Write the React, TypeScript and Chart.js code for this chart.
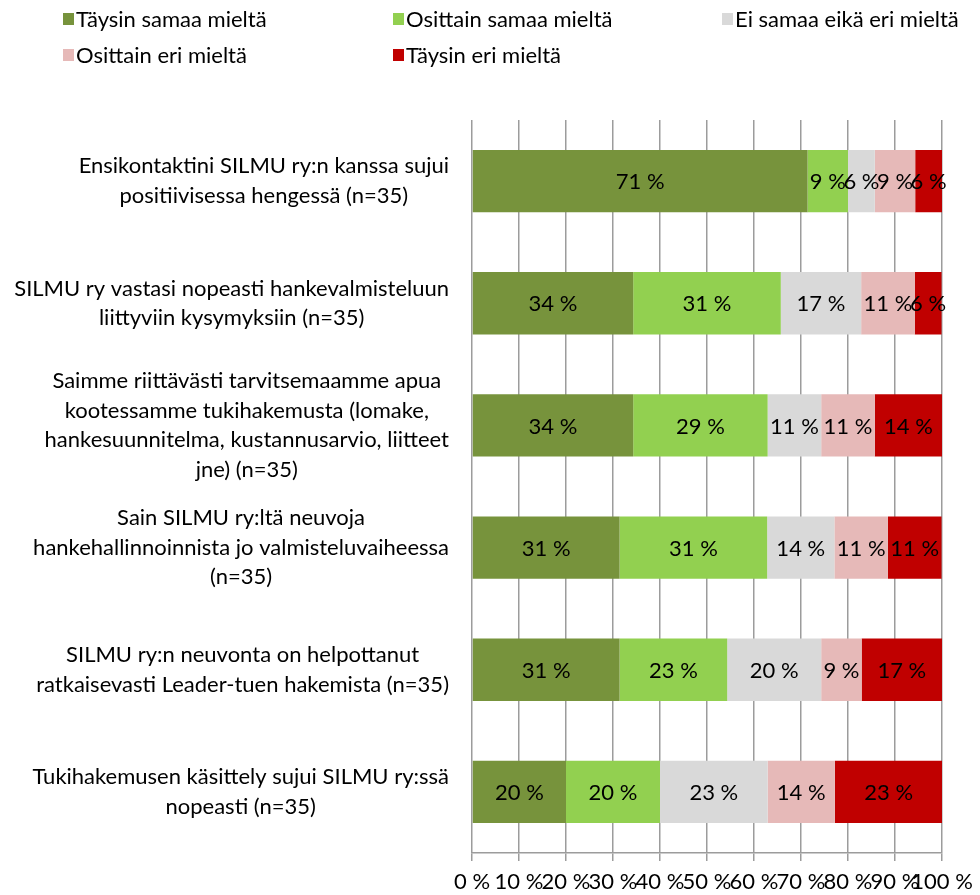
import React, { useEffect, useRef } from "react";
import { Chart, registerables } from "chart.js";

Chart.register(...registerables);

const categories: string[][] = [
  ["Ensikontaktini SILMU ry:n kanssa sujui", "positiivisessa hengessä (n=35)"],
  ["SILMU ry vastasi nopeasti hankevalmisteluun", "liittyviin kysymyksiin (n=35)"],
  ["Saimme riittävästi tarvitsemaamme apua", "kootessamme tukihakemusta (lomake,", "hankesuunnitelma, kustannusarvio, liitteet", "jne) (n=35)"],
  ["Sain SILMU ry:ltä neuvoja", "hankehallinnoinnista jo valmisteluvaiheessa", "(n=35)"],
  ["SILMU ry:n neuvonta on helpottanut", "ratkaisevasti Leader-tuen hakemista (n=35)"],
  ["Tukihakemusen käsittely sujui SILMU ry:ssä", "nopeasti (n=35)"],
];

const seriesNames = [
  "Täysin samaa mieltä",
  "Osittain samaa mieltä",
  "Ei samaa eikä eri mieltä",
  "Osittain eri mieltä",
  "Täysin eri mieltä",
];

const taysinSamaa = [71.4, 34.3, 34.3, 31.4, 31.4, 20.0];
const osittainSamaa = [8.6, 31.4, 28.6, 31.4, 22.9, 20.0];
const eiSamaaEikaEri = [5.7, 17.1, 11.4, 14.3, 20.0, 22.9];
const osittainEri = [8.6, 11.4, 11.4, 11.4, 8.6, 14.3];
const taysinEri = [5.7, 5.7, 14.3, 11.4, 17.1, 22.9];

const xTicks = [0, 10, 20, 30, 40, 50, 60, 70, 80, 90, 100];

const colors = ["#77933C", "#92D050", "#D9D9D9", "#E6B9B8", "#C00000"];

const FONT = "Lato, 'Open Sans', sans-serif";
const FS = 22;

export default function App() {
  const ref = useRef<HTMLCanvasElement | null>(null);

  useEffect(() => {
    if (!ref.current) return;
    const seriesValues = [taysinSamaa, osittainSamaa, eiSamaaEikaEri, osittainEri, taysinEri];

    const overlay = {
      id: "overlay",
      afterDatasetsDraw(chart: any) {
        const ctx = chart.ctx;
        ctx.save();
        ctx.font = `${FS}px ${FONT}`;
        ctx.fillStyle = "#000";
        ctx.textAlign = "center";
        ctx.textBaseline = "middle";
        chart.data.datasets.forEach((ds: any, i: number) => {
          const meta = chart.getDatasetMeta(i);
          meta.data.forEach((bar: any, j: number) => {
            const v = ds.data[j];
            const cx = (bar.x + bar.base) / 2;
            ctx.fillText(`${Math.round(v)} %`, cx, bar.y + 1);
          });
        });
        ctx.restore();
      },
      afterDraw(chart: any) {
        const ctx = chart.ctx;
        ctx.save();
        ctx.font = `${FS}px ${FONT}`;
        ctx.fillStyle = "#000";
        ctx.textBaseline = "middle";
        const yScale = chart.scales.y;
        const rightEdge = 449;
        const lh = 29.5;
        categories.forEach((lines, i) => {
          const cy = yScale.getPixelForValue(i);
          const maxW = Math.max(...lines.map((l) => ctx.measureText(l).width));
          const cx = rightEdge - maxW / 2;
          ctx.textAlign = "center";
          const startY = cy - ((lines.length - 1) * lh) / 2;
          lines.forEach((l, k) => ctx.fillText(l, cx, startY + k * lh));
        });
        const cols = [63, 393, 722];
        const rows = [19, 55];
        seriesNames.forEach((name, i) => {
          const col = i % 3;
          const row = Math.floor(i / 3);
          const x = cols[col];
          const y = rows[row];
          ctx.fillStyle = colors[i];
          ctx.fillRect(x, y - 6, 11, 12);
          ctx.fillStyle = "#000";
          ctx.textAlign = "left";
          ctx.fillText(name, x + 13, y + 1);
        });
        ctx.restore();
      },
    };

    const chart = new Chart(ref.current, {
      type: "bar",
      data: {
        labels: categories.map((c) => c.join(" ")),
        datasets: seriesNames.map((name, i) => ({
          label: name,
          data: seriesValues[i],
          backgroundColor: colors[i],
          borderWidth: 0,
          categoryPercentage: 1,
          barPercentage: 0.51,
        })),
      },
      options: {
        indexAxis: "y",
        animation: false,
        responsive: true,
        maintainAspectRatio: false,
        layout: { padding: { left: 472, right: 38, top: 120, bottom: -8 } },
        plugins: {
          legend: { display: false },
          tooltip: { enabled: false },
        },
        scales: {
          x: {
            stacked: true,
            min: 0,
            max: 100,
            afterBuildTicks(scale: any) {
              scale.ticks = xTicks.map((v) => ({ value: v }));
            },
            afterFit(scale: any) {
              scale.paddingLeft = 0;
              scale.paddingRight = 0;
            },
            grid: {
              color: "#9c9c9c",
              lineWidth: 1.5,
              drawTicks: true,
              tickLength: 8,
            },
            border: { display: true, color: "#9c9c9c", width: 1.5 },
            ticks: {
              autoSkip: false,
              maxRotation: 0,
              padding: 10,
              color: "#000",
              font: { family: FONT, size: FS, lineHeight: 1 },
              callback: (v: any) => `${v} %`,
            },
          },
          y: {
            stacked: true,
            display: false,
          },
        },
      },
      plugins: [overlay],
    });
    return () => chart.destroy();
  }, []);

  return (
    <div style={{ position: "absolute", left: 0, top: 0, width: 980, height: 895, background: "#fff" }}>
      <canvas ref={ref} />
    </div>
  );
}
